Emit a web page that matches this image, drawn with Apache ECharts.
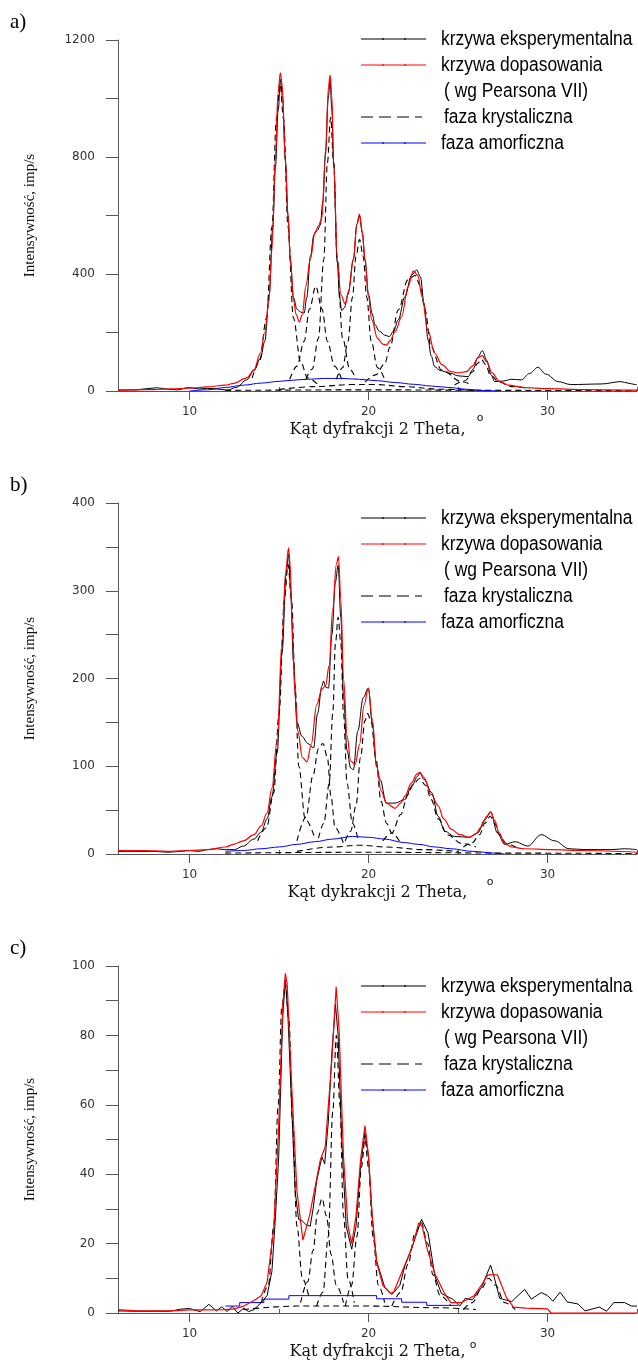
<!DOCTYPE html>
<html lang="pl">
<head>
    <meta charset="UTF-8">
    <title>Dyfraktogramy</title>
    <script src="https://cdn.jsdelivr.net/npm/echarts@6/dist/echarts.min.js"></script>
    <style>
        html, body { margin: 0; padding: 0; background: #fff; }
        #charts { width: 638px; height: 1361px; }
    </style>
</head>
<body>
<div id="charts"></div>

<script>
    // ---- dane ----
    var xLabelTicks = [10, 20, 30];
    var xSmallTicks = [15, 25, 35];
    var legendNames = ['krzywa eksperymentalna', 'krzywa dopasowania', '( wg Pearsona VII)', 'faza krystaliczna', 'faza amorficzna'];
    var panelNames = ['a)', 'b)', 'c)'];
    var xTitles = ['Kąt dyfrakcji 2 Theta,', 'Kąt dykrakcji 2 Theta,', 'Kąt dyfrakcji 2 Theta,'];
    var yTitle = 'Intensywność, imp/s';

    // a)
    var aExp = [[6,3],[7,4],[7.6,8],[8.2,11],[8.8,6],[9.3,4],[10,12],[10.5,7],[11,9],[11.5,7],[12.1,3],[12.6,12],[13.2,38],[13.6,70],[13.96,112],[14.2,170],[14.45,330],[14.65,560],[14.8,767],[14.95,960],[15.08,1065],[15.2,1000],[15.35,790],[15.5,600],[15.63,450],[15.8,320],[16.0,280],[16.2,270],[16.4,266],[16.55,320],[16.75,460],[16.95,535],[17.15,550],[17.3,567],[17.45,650],[17.6,820],[17.75,1000],[17.85,1065],[17.95,960],[18.05,780],[18.25,440],[18.38,320],[18.5,275],[18.65,285],[18.85,330],[19.15,450],[19.35,570],[19.5,598],[19.65,540],[19.8,450],[20.0,330],[20.2,265],[20.36,226],[20.6,205],[20.9,191],[21.16,186],[21.4,205],[21.66,243],[22.03,322],[22.4,396],[22.69,414],[22.9,390],[23.1,300],[23.33,174],[23.5,120],[23.7,83],[24.0,70],[24.6,60],[25.0,52],[25.56,49],[25.85,75],[26.1,115],[26.36,138],[26.6,105],[26.85,55],[27.05,32],[27.5,34],[28.0,40],[28.53,38],[29.0,60],[29.46,81],[29.9,58],[30.6,32],[31.3,22],[33.0,24],[34.1,32],[34.5,27],[34.9,22],[35,22]];
    var aFit = [[6,3],[7,4],[8,5],[9,7],[10,10],[11,14],[12,20],[12.47,26],[13.2,45],[13.6,72],[13.96,130],[14.2,200],[14.42,300],[14.6,480],[14.79,790],[14.94,1018],[15.07,1088],[15.17,1050],[15.35,790],[15.5,600],[15.63,448],[15.81,311],[15.95,262],[16.13,236],[16.3,262],[16.5,360],[16.74,448],[17.02,545],[17.2,565],[17.39,590],[17.58,790],[17.76,1040],[17.85,1080],[17.95,1010],[18.04,790],[18.26,448],[18.45,330],[18.7,297],[18.9,345],[19.15,448],[19.35,570],[19.49,605],[19.65,545],[19.8,448],[20.0,320],[20.18,243],[20.5,180],[20.8,160],[21.0,157],[21.2,172],[21.5,205],[21.85,254],[22.2,356],[22.5,411],[22.75,395],[23.0,320],[23.3,210],[23.7,129],[24.1,90],[24.6,66],[25.0,62],[25.47,66],[25.8,85],[26.1,112],[26.35,121],[26.6,100],[26.9,62],[27.3,34],[27.8,20],[28.7,12],[30,8],[32,5],[35,3]];
    var aAmor = [[10,0],[11,4],[12,12],[13,20],[14,27],[15,33],[16,38],[17.5,43],[18.5,43],[19.5,40],[20.5,35],[21.5,29],[22.5,23],[23.5,17],[24.5,12],[25.5,6],[26.6,1],[27.2,0]];
    var aCr1 = [[13.5,45],[13.9,100],[14.3,250],[14.6,560],[14.85,930],[15.05,1050],[15.25,930],[15.5,560],[15.8,250],[16.2,100],[16.6,45],[17.2,20]];
    var aCr2 = [[15.6,40],[16.0,85],[16.4,170],[16.7,280],[17.05,358],[17.4,280],[17.7,170],[18.1,85],[18.5,40]];
    var aCr3 = [[16.5,40],[16.85,75],[17.2,180],[17.5,450],[17.7,780],[17.88,935],[18.05,780],[18.25,450],[18.55,180],[18.95,75],[19.3,40]];
    var aCr4 = [[18.2,40],[18.55,80],[18.85,170],[19.1,320],[19.3,460],[19.5,518],[19.7,460],[19.9,320],[20.15,170],[20.5,80],[20.9,40]];
    var aCr5 = [[19.8,30],[20.4,55],[20.9,93],[21.2,150],[21.66,277],[22.2,380],[22.6,395],[22.9,360],[23.15,277],[23.5,150],[24.07,72],[25.2,32],[25.8,20]];
    var aCr6 = [[24.8,20],[25.4,35],[25.8,65],[26.1,95],[26.3,108],[26.55,90],[26.8,55],[27.3,30],[28,15],[29,8]];
    var aCr7 = [[15,5],[17,15],[19,22],[20.5,22],[22,15],[24,6],[26,2]];
    var aCr8 = [[12,2],[20,4],[28,2],[35,1]];

    // b)
    var bExp = [[6,3],[7,3],[8,3],[8.8,2],[9.5,3],[10,4],[10.5,3],[11,5],[11.5,6],[12,5],[12.5,5],[13,9],[13.6,17],[14,25],[14.33,40],[14.6,65],[14.89,115],[15.17,230],[15.4,320],[15.53,342],[15.65,300],[15.8,220],[16.0,150],[16.28,134],[16.6,126],[16.93,121],[17.15,160],[17.39,191],[17.48,197],[17.62,190],[17.76,189],[17.95,250],[18.15,310],[18.3,329],[18.45,270],[18.6,180],[18.8,118],[19.0,98],[19.15,96],[19.4,140],[19.7,178],[19.99,189],[20.2,150],[20.45,100],[20.64,85],[21.0,58],[21.48,58],[22.03,62],[22.4,77],[22.76,89],[22.87,92],[23.1,85],[23.53,70],[23.89,43],[24.26,26],[24.8,20],[25.6,19],[26.1,24],[26.5,39],[26.82,48],[27.2,24],[27.6,11],[28.2,14],[28.9,9],[29.65,22],[30.4,15],[31.2,6],[32.1,5],[33.6,5],[34.3,6],[35,5]];
    var bFit = [[6,4],[7,4],[8,3.5],[9,3],[10,4],[11,5],[12,8],[12.47,11],[13,15],[13.6,22],[14,32],[14.33,47],[14.6,75],[14.89,130],[15.17,244],[15.36,320],[15.53,349],[15.62,330],[15.73,260],[15.9,180],[16.05,140],[16.3,110],[16.56,105],[16.8,125],[17.1,170],[17.4,188],[17.6,192],[17.8,215],[18.0,280],[18.2,330],[18.32,339],[18.45,290],[18.6,200],[18.8,135],[19.0,106],[19.25,102],[19.5,125],[19.75,170],[19.99,189],[20.2,155],[20.45,100],[20.7,72],[21.0,58],[21.48,52],[21.8,58],[22.03,66],[22.4,81],[22.7,91],[22.87,93],[23.1,87],[23.5,68],[23.89,55],[24.2,40],[24.63,28],[25.1,22],[25.65,19],[26.0,23],[26.3,31],[26.6,43],[26.82,48],[27.05,38],[27.3,24],[27.6,12],[28.0,8],[28.7,6],[30.2,5],[32,4],[35,2]];
    var bAmor = [[12,3],[13,4],[14,6],[15,8],[16,11],[17,14],[18,17],[19.1,20],[20,19],[20.9,17],[22,13],[22.8,11],[23.7,8],[24.6,6],[25.8,3],[27.1,1],[27.6,0]];
    var bCr1 = [[13.8,15],[14.3,30],[14.7,70],[15.0,160],[15.3,290],[15.5,330],[15.7,290],[15.9,190],[16.1,100],[16.46,40],[17,18]];
    var bCr2 = [[16.0,15],[16.5,42],[16.9,90],[17.2,120],[17.45,126],[17.7,110],[17.9,65],[18.13,30],[18.6,12]];
    var bCr3 = [[17.2,18],[17.5,35],[17.8,80],[18.0,160],[18.15,240],[18.3,270],[18.45,240],[18.6,160],[18.8,80],[19.1,35],[19.4,18]];
    var bCr4 = [[18.7,15],[19.0,26],[19.3,55],[19.55,110],[19.8,152],[19.95,160],[20.15,150],[20.4,110],[20.7,60],[21.0,35],[21.3,24],[21.8,12]];
    var bCr5 = [[20.8,15],[21.3,24],[21.8,45],[22.2,68],[22.5,80],[22.85,86],[23.2,78],[23.5,62],[23.9,40],[24.4,22],[25.2,12],[26,8]];
    var bCr6 = [[25.3,8],[25.8,13],[26.2,22],[26.5,35],[26.8,43],[27.05,35],[27.3,22],[27.7,12],[28.3,7]];
    var bCr7 = [[16,3],[18,8],[19.5,10],[21,8],[23,5],[25,3]];
    var bCr8 = [[12,1],[20,2],[28,1],[35,0.5]];

    // c)
    var cExp = [[6,0.6],[7,0.5],[8,0.5],[8.9,0.5],[9.5,1.1],[10,1.3],[10.3,0.8],[10.6,0.4],[11.08,2.5],[11.5,0.6],[11.8,1.8],[12.1,0.4],[12.38,1.9],[12.7,0],[13.03,1.4],[13.3,0.4],[13.6,1],[14.0,3],[14.33,5],[14.6,12],[14.8,28],[14.98,45],[15.2,85],[15.35,96],[15.5,85],[15.7,60],[15.9,35],[16.09,27],[16.3,26.5],[16.5,25.5],[16.74,25],[16.9,30],[17.1,38],[17.39,45],[17.55,43],[17.75,55],[17.95,75],[18.15,89],[18.3,80],[18.5,50],[18.75,25],[19.06,18.4],[19.3,25],[19.55,42],[19.8,52],[20.0,45],[20.2,28],[20.45,15],[20.9,7.5],[21.3,5.3],[21.75,8],[22.03,13.6],[22.4,18.5],[22.96,27],[23.33,23],[23.7,10.8],[24.07,5.6],[24.7,4],[25.1,2],[25.4,4.2],[25.8,3.8],[26.3,7.3],[26.82,13.8],[27.0,10.7],[27.33,4.2],[28.0,3.3],[28.72,6.8],[29.1,4],[29.65,5.9],[30.0,5],[30.3,3.4],[30.7,6],[31.1,3.2],[31.7,2.6],[32.1,0.6],[32.9,1.7],[33.3,0.5],[33.7,3],[34.3,3],[34.7,2],[35,2]];
    var cFit = [[6,1],[7,0.6],[8,0.6],[9,0.6],[10,0.9],[11,0.9],[12,1],[12.5,1.2],[13.03,2],[13.6,3.6],[14.0,5],[14.33,8.9],[14.7,24],[14.98,54],[15.2,88],[15.35,97.9],[15.45,95],[15.72,64],[16.0,35],[16.33,21],[16.7,28],[17.0,36],[17.3,44],[17.58,48],[17.95,73],[18.19,94],[18.35,82],[18.6,45],[18.85,25],[19.06,20],[19.3,28],[19.55,44],[19.8,54],[20.0,45],[20.2,28],[20.45,14.6],[20.8,8],[21.2,5.7],[21.4,6],[21.8,11],[22.2,16],[22.5,20],[22.8,26],[23.0,25],[23.3,18],[23.7,11.4],[24.26,5.5],[24.6,3],[25.2,3],[25.9,5],[26.3,8],[26.67,11],[27.2,11],[27.7,4.5],[28.1,1.7],[28.8,1.4],[30.0,1.2],[30.2,0],[35,0]];
    var cAmor = [[12,2],[12.8,3],[14.15,4],[15.55,5],[20.45,4.1],[21.85,3.1],[23.25,2.2],[25,2.2]];
    var cCr1 = [[14.0,3],[14.4,8],[14.7,25],[14.95,60],[15.15,88],[15.35,95],[15.55,85],[15.75,55],[16.0,25],[16.3,10],[16.7,4]];
    var cCr2 = [[16.2,3],[16.6,9],[16.9,18],[17.15,29],[17.4,33],[17.65,28],[17.9,17],[18.2,8],[18.6,3]];
    var cCr3 = [[17.1,2],[17.45,6],[17.75,22],[18.0,58],[18.2,80],[18.4,60],[18.6,28],[18.85,10],[19.2,3]];
    var cCr4 = [[18.7,2],[19.05,8],[19.35,22],[19.6,42],[19.8,50],[20.0,42],[20.25,22],[20.55,8],[20.9,3]];
    var cCr5 = [[21.3,2],[21.8,6],[22.2,14],[22.6,23],[22.95,26],[23.3,20],[23.6,11],[24.0,5],[24.6,2]];
    var cCr6 = [[25.3,1],[25.8,3],[26.3,7],[26.7,10],[27.1,8],[27.6,3],[28.2,1]];
    var cCr7 = [[13,1],[16,2],[20,2],[24,1.5],[26,1]];

    var yMax = [1200, 400, 100];
    var yStep = [200, 50, 10];
    var yLabelStep = [400, 100, 20];

    // ---- uklad ----
    var gridTops = [40, 503, 966];
    var gridH = 351;
    var legendTops = [39, 518, 986];

    var chart = echarts.init(document.getElementById('charts'));

    var serif = '"Liberation Serif", "Times New Roman", serif';
    var sans = '"Liberation Sans", Arial, sans-serif';
    var axisColor = '#555';

    var grids = [], xAxes = [], yAxes = [], series = [], graphics = [];

    gridTops.forEach(function (top, i) {
        grids.push({left: 118, right: 1, top: top, height: gridH});
    });
    // glowne osie x (0..2)
    gridTops.forEach(function (top, i) {
        xAxes.push({
            type: 'value', gridIndex: i, min: 6, max: 35, position: 'bottom',
            axisLine: {lineStyle: {color: axisColor, width: 1}},
            axisTick: {customValues: xLabelTicks, length: 9, lineStyle: {color: axisColor}},
            axisLabel: {customValues: xLabelTicks, margin: 15, color: '#333', fontFamily: 'DejaVu Sans', fontSize: 12},
            splitLine: {show: false},
            name: xTitles[i], nameLocation: 'middle', nameGap: 31,
            nameTextStyle: {fontFamily: 'DejaVu Serif', fontSize: 16, color: '#111'}
        });
    });
    // krotkie kreski na 15, 25, 35 (3..5)
    gridTops.forEach(function (top, i) {
        xAxes.push({
            type: 'value', gridIndex: i, min: 6, max: 35, position: 'bottom',
            axisLine: {show: false},
            axisTick: {customValues: xSmallTicks, length: 4, inside: true, lineStyle: {color: axisColor}},
            axisLabel: {show: false},
            splitLine: {show: false}
        });
    });
    gridTops.forEach(function (top, i) {
        var ls = yLabelStep[i];
        yAxes.push({
            type: 'value', gridIndex: i, min: 0, max: yMax[i], interval: yStep[i],
            axisLine: {show: true, lineStyle: {color: axisColor, width: 1}},
            axisTick: {show: true, length: 12, lineStyle: {color: axisColor}},
            axisLabel: {
                margin: 23, color: '#333', fontFamily: 'DejaVu Sans', fontSize: 12,
                formatter: function (v) { return v % ls === 0 ? v : ''; }
            },
            splitLine: {show: false},
            name: yTitle, nameLocation: 'middle', nameGap: 80,
            nameTextStyle: {fontFamily: serif, fontSize: 15, color: '#111'}
        });
    });

    function addLine(data, i, kind, smooth) {
        var s = {
            type: 'line', xAxisIndex: i, yAxisIndex: i, data: data,
            showSymbol: false, symbol: 'none', smooth: smooth ? 0.35 : false,
            smoothMonotone: 'x', silent: true, clip: true
        };
        if (kind === 'exp') s.lineStyle = {color: '#000', width: 1}, s.z = 3;
        if (kind === 'fit') s.lineStyle = {color: '#ff0000', width: 1.2}, s.z = 4;
        if (kind === 'cr') s.lineStyle = {color: '#000', width: 1.1, type: [6, 4]}, s.z = 2;
        if (kind === 'am') s.lineStyle = {color: '#0000ff', width: 1}, s.z = 2;
        if (kind === 'amStep') s.lineStyle = {color: '#0000ff', width: 1}, s.z = 2, s.step = 'end';
        series.push(s);
    }

    [aCr1, aCr2, aCr3, aCr4, aCr5, aCr6, aCr7, aCr8].forEach(function (d) { addLine(d, 0, 'cr', true); });
    addLine(aAmor, 0, 'am', true);
    addLine(aExp, 0, 'exp', true);
    addLine(aFit, 0, 'fit', true);

    [bCr1, bCr2, bCr3, bCr4, bCr5, bCr6, bCr7, bCr8].forEach(function (d) { addLine(d, 1, 'cr', true); });
    addLine(bAmor, 1, 'am', true);
    addLine(bExp, 1, 'exp', true);
    addLine(bFit, 1, 'fit', true);

    [cCr1, cCr2, cCr3, cCr4, cCr5, cCr6, cCr7].forEach(function (d) { addLine(d, 2, 'cr', true); });
    addLine(cAmor, 2, 'amStep', false);
    addLine(cExp, 2, 'exp', false);
    addLine(cFit, 2, 'fit', false);

    // legendy, etykiety paneli, znak stopnia
    var degreePos = [[480, 418], [490, 882], [473, 1345]];
    var panelLabelY = [22, 485, 948];
    legendTops.forEach(function (t, i) {
        var rows = [t, t + 26, t + 52, t + 78, t + 104];
        var lines = [
            {y: rows[0], color: '#000', dash: null},
            {y: rows[1], color: '#ff0000', dash: null},
            {y: rows[3], color: '#000', dash: [12, 6]},
            {y: rows[4], color: '#0000ff', dash: null}
        ];
        lines.forEach(function (l) {
            graphics.push({
                type: 'line', shape: {x1: 361, y1: l.y, x2: l.dash ? 422 : 426, y2: l.y},
                style: {stroke: l.color, lineWidth: 1, lineDash: l.dash}
            });
            if (!l.dash) {
                [383, 405].forEach(function (dx) {
                    graphics.push({
                        type: 'circle', shape: {cx: dx, cy: l.y, r: 1},
                        style: {fill: l.color === '#000' ? '#000' : l.color, opacity: 0.8}
                    });
                });
            }
        });
        legendNames.forEach(function (n, k) {
            graphics.push({
                type: 'text', x: (k === 2 || k === 3) ? 444 : 441, y: rows[k], scaleX: 0.87,
                style: {text: n, font: '20px ' + sans, fill: '#000', textVerticalAlign: 'middle'}
            });
        });
        graphics.push({
            type: 'text', x: 10, y: panelLabelY[i],
            style: {text: panelNames[i], font: '21px ' + serif, fill: '#000', textVerticalAlign: 'middle'}
        });
        graphics.push({
            type: 'text', x: degreePos[i][0], y: degreePos[i][1],
            style: {text: 'o', font: '11px "DejaVu Sans"', fill: '#111', textAlign: 'center', textVerticalAlign: 'middle'}
        });
    });

    chart.setOption({
        animation: false,
        backgroundColor: '#fff',
        grid: grids,
        xAxis: xAxes,
        yAxis: yAxes,
        series: series,
        graphic: graphics
    });
</script>
</body>
</html>
